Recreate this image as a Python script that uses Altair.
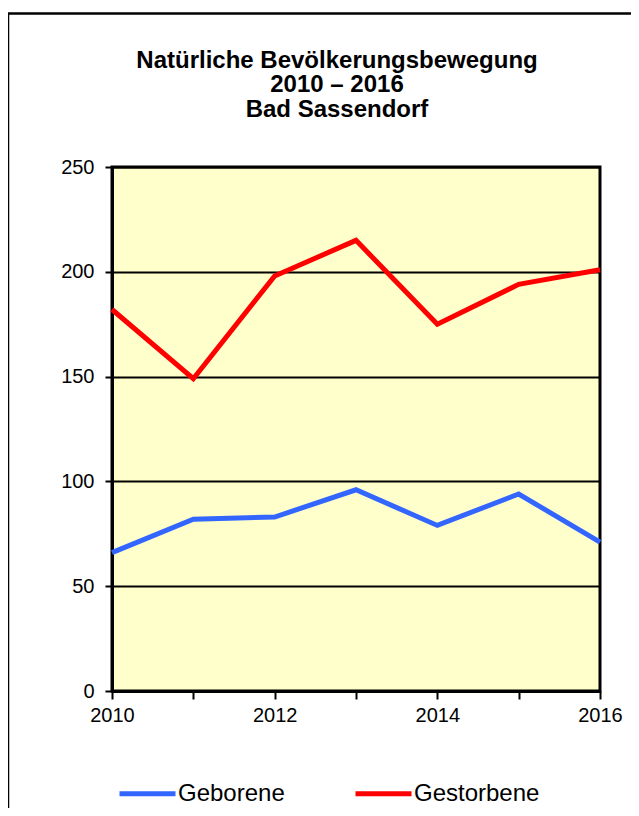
import altair as alt
import pandas as pd

years = [2010, 2011, 2012, 2013, 2014, 2015, 2016]
geborene = [66, 82, 83, 96, 79, 94, 71]
gestorbene = [182, 149, 198, 215, 175, 194, 201]
series_names = ["Geborene", "Gestorbene"]
series_colors = ["#3366FF", "#FF0000"]
y_ticks = [0, 50, 100, 150, 200, 250]
title_lines = ["Natürliche Bevölkerungsbewegung", "2010 – 2016", "Bad Sassendorf"]

FONT = "Liberation Sans"

df = pd.DataFrame({
    "Jahr": years + years,
    "Wert": geborene + gestorbene,
    "Reihe": [series_names[0]] * len(years) + [series_names[1]] * len(years),
})

lines = alt.Chart(df).mark_line(strokeWidth=5).encode(
    x=alt.X(
        "Jahr:Q",
        scale=alt.Scale(domain=[2010, 2016], nice=False, zero=False),
        axis=alt.Axis(
            values=years,
            format="d",
            labelExpr="datum.value % 2 == 0 ? datum.label : ''",
            title=None,
            grid=False,
            tickSize=8,
            tickWidth=2,
            tickColor="black",
            domainWidth=3,
            domainColor="black",
            labelFontSize=20,
            labelPadding=6,
            labelColor="black",
            labelFont=FONT,
            labelFlush=False,
            labelOverlap=False,
        ),
    ),
    y=alt.Y(
        "Wert:Q",
        scale=alt.Scale(domain=[0, 250], nice=False),
        axis=alt.Axis(
            values=y_ticks,
            title=None,
            grid=True,
            gridColor="black",
            gridWidth=2,
            tickSize=7,
            tickWidth=2,
            tickColor="black",
            domainWidth=3,
            domainColor="black",
            labelFontSize=20,
            labelPadding=11,
            labelColor="black",
            labelFont=FONT,
        ),
    ),
    color=alt.Color(
        "Reihe:N",
        scale=alt.Scale(domain=series_names, range=series_colors),
        legend=alt.Legend(
            title=None,
            orient="none",
            legendX=5,
            legendY=596,
            direction="horizontal",
            symbolType="stroke",
            symbolSize=3136,
            symbolStrokeWidth=5,
            labelFontSize=24,
            labelFont=FONT,
            labelColor="black",
            labelOffset=0,
            columnPadding=60,
            padding=0,
        ),
    ),
)

frame_df = pd.DataFrame({"k": [0]})
left_border = alt.Chart(frame_df).mark_rule(color="black", strokeWidth=2.5).encode(
    x=alt.value(-104), y=alt.value(-154), y2=alt.value(700)
)
top_border = alt.Chart(frame_df).mark_rule(color="black", strokeWidth=2.5).encode(
    x=alt.value(-105), x2=alt.value(560), y=alt.value(-153.5)
)

chart = alt.layer(left_border, top_border, lines).properties(
    width=488,
    height=524,
    autosize=alt.AutoSizeParams(type="none"),
    padding={"left": 104, "top": 159, "right": 31, "bottom": 117},
    background="white",
    title=alt.TitleParams(
        text=title_lines,
        fontSize=24,
        font=FONT,
        fontWeight="bold",
        anchor="middle",
        frame="group",
        dx=-19,
        dy=152,
        lineHeight=24.5,
        offset=42,
        color="black",
    ),
).configure_view(fill="#FFFFCC", stroke="black", strokeWidth=3)

chart.save("out.html", embed_options={"renderer": "svg", "actions": False})
